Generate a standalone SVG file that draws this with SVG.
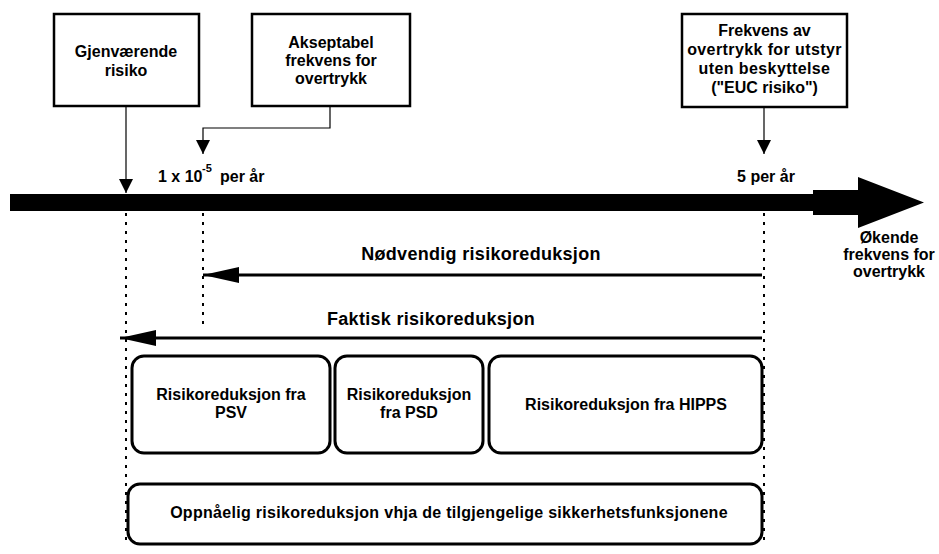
<svg xmlns="http://www.w3.org/2000/svg" width="939" height="554" viewBox="0 0 939 554">
<style>
text{font-family:"Liberation Sans",Arial,sans-serif;font-weight:bold;fill:#000;text-anchor:middle}
.box{fill:#fff;stroke:#000;stroke-width:2.5}
.rbox{fill:#fff;stroke:#000;stroke-width:3}
.thin{fill:none;stroke:#000;stroke-width:1.2}
.thick{fill:none;stroke:#000;stroke-width:3}
.dot{fill:none;stroke:#000;stroke-width:2;stroke-dasharray:3 6}
.t16{font-size:16px}
.t15{font-size:16px}
.t18{font-size:18px}
</style>
<defs>
<marker id="ah" markerUnits="userSpaceOnUse" markerWidth="14" markerHeight="14" refX="14" refY="7" orient="auto" viewBox="0 0 14 14">
<path d="M0,0 L14,7 L0,14 Z" fill="#000"/>
</marker>
<marker id="ahb" markerUnits="userSpaceOnUse" markerWidth="36" markerHeight="16" refX="36" refY="8" orient="auto" viewBox="0 0 36 16">
<path d="M0,0 L36,8 L0,16 Z" fill="#000"/>
</marker>
</defs>

<g id="axis">
<path d="M10,194 L813,194 L813,190 L858,190 L858,177 L924,202.5 L858,228 L858,215 L813,215 L813,211 L10,211 Z" fill="#000"/>
<text class="t16" x="889" y="243">Økende</text>
<text class="t16" x="889" y="260">frekvens for</text>
<text class="t16" x="889" y="277">overtrykk</text>
<text class="t16" x="158" y="182" style="text-anchor:start">1 x 10</text>
<text x="202" y="172" style="text-anchor:start;font-size:11px">-5</text>
<text class="t16" x="220" y="182" style="text-anchor:start">per år</text>
<text class="t16" x="766" y="182">5 per år</text>
</g>

<g id="connectors">
<path class="thin" d="M126,106 V193" marker-end="url(#ah)"/>
<path class="thin" d="M330,106 V128 H203 V154" marker-end="url(#ah)"/>
<path class="thin" d="M764,107 V154" marker-end="url(#ah)"/>
<path class="dot" d="M126,213 V546"/>
<path class="dot" d="M203,213 V329"/>
<path class="dot" d="M764,213 V546"/>
<path class="thick" d="M762,275 H203" marker-end="url(#ahb)"/>
<path class="thick" d="M762,338 H120" marker-end="url(#ahb)"/>
</g>

<g id="label-nodvendig"><text class="t18" x="481" y="260" style="letter-spacing:0.3px">Nødvendig risikoreduksjon</text></g>
<g id="label-faktisk"><text class="t18" x="431" y="325" style="letter-spacing:0.3px">Faktisk risikoreduksjon</text></g>

<g id="gjenvaerende">
<rect class="box" x="54" y="14" width="145" height="92"/>
<text class="t16" x="126" y="57">Gjenværende</text>
<text class="t16" x="126" y="76">risiko</text>
</g>

<g id="akseptabel">
<rect class="box" x="252" y="14" width="158" height="92"/>
<text class="t16" x="331" y="48">Akseptabel</text>
<text class="t16" x="331" y="66">frekvens for</text>
<text class="t16" x="331" y="84">overtrykk</text>
</g>

<g id="euc">
<rect class="box" x="682" y="14" width="165" height="93"/>
<text class="t16" x="764.5" y="36">Frekvens av</text>
<text class="t16" x="764.5" y="55" style="letter-spacing:0.4px">overtrykk for utstyr</text>
<text class="t16" x="764.5" y="74" style="letter-spacing:0.4px">uten beskyttelse</text>
<text class="t16" x="764.5" y="93">("EUC risiko")</text>
</g>

<g id="psv">
<rect class="rbox" x="132" y="356" width="198" height="97" rx="12"/>
<text class="t15" x="231" y="400">Risikoreduksjon fra</text>
<text class="t15" x="231" y="418">PSV</text>
</g>

<g id="psd">
<rect class="rbox" x="335" y="356" width="148" height="97" rx="12"/>
<text class="t15" x="409" y="400">Risikoreduksjon</text>
<text class="t15" x="409" y="418">fra PSD</text>
</g>

<g id="hipps">
<rect class="rbox" x="489" y="356" width="273" height="97" rx="12"/>
<text class="t15" x="626" y="410">Risikoreduksjon fra HIPPS</text>
</g>

<g id="oppnaelig">
<rect class="rbox" x="128" y="484" width="634" height="60" rx="12"/>
<text class="t15" x="449" y="518" style="letter-spacing:0.3px">Oppnåelig risikoreduksjon vhja de tilgjengelige sikkerhetsfunksjonene</text>
</g>
</svg>
